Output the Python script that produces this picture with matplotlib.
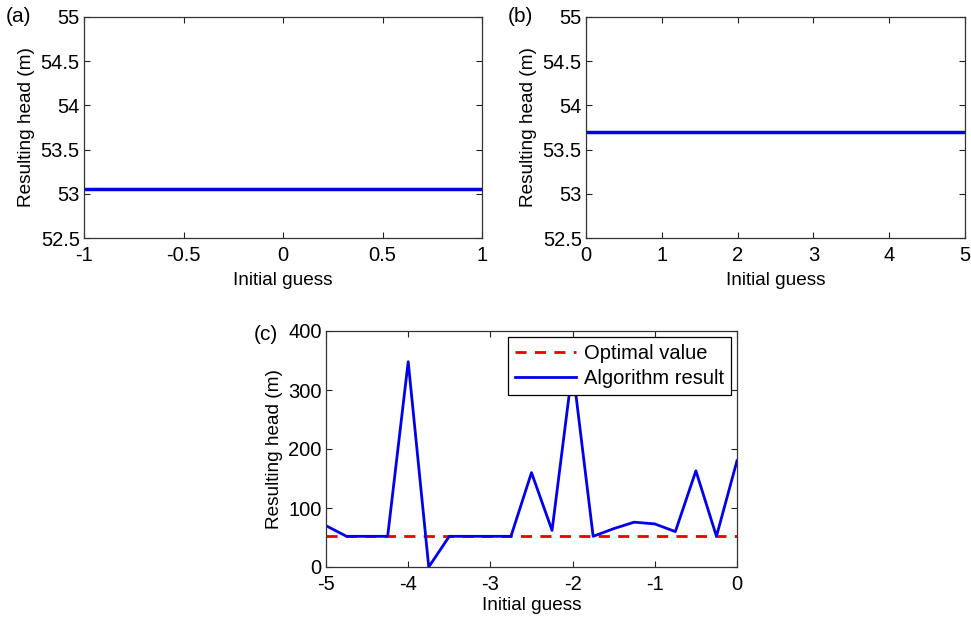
import matplotlib
matplotlib.use("Agg")
from matplotlib import pyplot as plt

plt.rcParams["font.family"] = ["Liberation Sans", "DejaVu Sans"]
plt.rcParams["font.size"] = 11

# panel (a) and (b): constant result over the initial guess range
a_x = [-1, 1]
a_y = [53.05, 53.05]
b_x = [0, 5]
b_y = [53.7, 53.7]

# panel (c)
c_x = [-5, -4.75, -4.5, -4.25, -4, -3.75, -3.5, -3.25, -3, -2.75, -2.5, -2.25, -2,
       -1.75, -1.5, -1.25, -1, -0.75, -0.5, -0.25, 0]
c_y = [70, 52, 52, 52, 348, 0, 52, 52, 52, 52, 160, 62, 338,
       52, 65, 76, 73, 60, 163, 52, 180]
optimal = 53

W, H = 971, 619
fig = plt.figure(figsize=(W / 100, H / 100), dpi=100)


def add_axes(l, t, r, b):
    return fig.add_axes([l / W, 1 - b / H, (r - l) / W, (b - t) / H])


def style(ax, xpad=5):
    ax.tick_params(direction="in", top=True, right=True, length=4, width=0.8,
                   labelsize=14.5, colors="#222222", labelcolor="black")
    ax.tick_params(axis="x", pad=6)
    ax.tick_params(axis="y", pad=3)
    for s in ax.spines.values():
        s.set_color("#333333")
        s.set_linewidth(0.9)
    ax.set_xlabel("Initial guess", fontsize=13.7, labelpad=xpad)
    ax.set_ylabel("Resulting head (m)", fontsize=13.7, labelpad=4)


ax_a = add_axes(84, 17, 482, 238)
ax_a.plot(a_x, a_y, color="#0000ee", lw=2.5)
ax_a.set_xlim(-1, 1)
ax_a.set_ylim(52.5, 55)
ax_a.set_xticks([-1, -0.5, 0, 0.5, 1])
ax_a.set_xticklabels(["-1", "-0.5", "0", "0.5", "1"])
ax_a.set_yticks([52.5, 53, 53.5, 54, 54.5, 55])
ax_a.set_yticklabels(["52.5", "53", "53.5", "54", "54.5", "55"])
style(ax_a)

ax_b = add_axes(586, 17, 965, 238)
ax_b.plot(b_x, b_y, color="#0000ee", lw=2.5)
ax_b.set_xlim(0, 5)
ax_b.set_ylim(52.5, 55)
ax_b.set_xticks([0, 1, 2, 3, 4, 5])
ax_b.set_yticks([52.5, 53, 53.5, 54, 54.5, 55])
ax_b.set_yticklabels(["52.5", "53", "53.5", "54", "54.5", "55"])
style(ax_b)

ax_c = add_axes(326, 331, 737, 567)
ax_c.plot([c_x[0], c_x[-1]], [optimal, optimal], color="#ee0000", lw=2,
          ls=(0, (4, 3)), label="Optimal value")
ax_c.plot(c_x, c_y, color="#0000ee", lw=2, label="Algorithm result")
ax_c.set_xlim(-5, 0)
ax_c.set_ylim(0, 400)
ax_c.set_xticks([-5, -4, -3, -2, -1, 0])
ax_c.set_xticklabels(["-5", "-4", "-3", "-2", "-1", "0"])
ax_c.set_yticks([0, 100, 200, 300, 400])
style(ax_c, xpad=2)
leg = ax_c.legend(loc="upper right", fontsize=14.5, frameon=True, fancybox=False,
                  edgecolor="black", framealpha=1, borderaxespad=0.3,
                  handlelength=3.0, handletextpad=0.4, borderpad=0.35,
                  labelspacing=0.3)
leg.get_frame().set_linewidth(0.9)

fig.text(6 / W, 1 - 17 / H, "(a)", fontsize=15, va="center", ha="left")
fig.text(508 / W, 1 - 17 / H, "(b)", fontsize=15, va="center", ha="left")
fig.text(254 / W, 1 - 334 / H, "(c)", fontsize=15, va="center", ha="left")

fig.savefig("out.png", dpi=100)
